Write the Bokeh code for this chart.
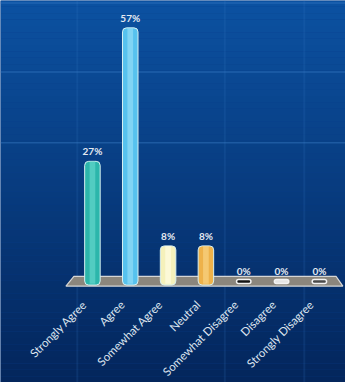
import numpy as np
from math import pi
from bokeh.plotting import figure
from bokeh.models import Range1d, Span, ColumnDataSource
from bokeh.core.properties import value
from bokeh.embed import file_html
from bokeh.resources import INLINE

# ---- data ----
categories = ["Strongly Agree", "Agree", "Somewhat Agree", "Neutral",
              "Somewhat Disagree", "Disagree", "Strongly Disagree"]
percents = [27, 57, 8, 8, 0, 0, 0]
value_labels = ["27%", "57%", "8%", "8%", "0%", "0%", "0%"]
bar_colors = ["#2cb6ab", "#57c2ee", "#f5f1bb", "#eeb24a", "#141414", "#e4e4e4", "#4a4a4a"]
highlight_colors = ["#62d5ca", "#92dbf7", "#fffce3", "#f8d383", "#141414", "#e4e4e4", "#4a4a4a"]

xs = list(range(len(categories)))
X0, X1 = -2.43, 6.69
Y0, Y1 = -22.7, 63.15

p = figure(width=345, height=382, x_range=Range1d(X0, X1), y_range=Range1d(Y0, Y1),
           output_backend="svg", toolbar_location=None,
           min_border_left=0, min_border_right=0, min_border_top=0, min_border_bottom=0)
p.outline_line_color = None
p.border_fill_color = "#052a60"
p.background_fill_color = "#083f8a"
p.grid.visible = False
p.axis.visible = False

# background gradient (decoration)
stops_t = [0.0, 0.74, 1.0]
stops_c = [np.array([12, 82, 162]), np.array([6, 49, 110]), np.array([4, 38, 92])]
nb = 60
edges = np.linspace(Y1, Y0, nb + 1)
cols = []
for k in range(nb):
    t = (k + 0.5) / nb
    if t <= stops_t[1]:
        u = t / stops_t[1]
        c = stops_c[0] * (1 - u) + stops_c[1] * u
    else:
        u = (t - stops_t[1]) / (1 - stops_t[1])
        c = stops_c[1] * (1 - u) + stops_c[2] * u
    cols.append("#%02x%02x%02x" % tuple(int(v) for v in c))
bg = p.quad(left=X0, right=X1, top=edges[:-1], bottom=edges[1:], fill_color=cols, line_color=None)
bg.level = "image"

for yy in [47.1, 31.2, 62.6]:
    p.add_layout(Span(location=yy, dimension="width", line_color="#3f7fc8", line_alpha=0.4,
                      line_width=1.5, level="underlay"))
for xx in [-0.4, 3.5, 5.6]:
    p.add_layout(Span(location=xx, dimension="height", line_color="#3f7fc8", line_alpha=0.15,
                      line_width=2, level="underlay"))

# platform
p.patch(x=[-0.49, 6.44, 6.62, -0.70], y=[1.17, 1.17, -1.03, -1.03],
        fill_color="#8b867d", line_color="#d6d6d6", line_width=1.2)

src = ColumnDataSource(dict(x=xs, top=percents, lab=value_labels, cat=categories))
nz = [i for i, v in enumerate(percents) if v > 0]
zz = [i for i, v in enumerate(percents) if v == 0]
src_nz = ColumnDataSource(dict(x=[xs[i] for i in nz], top=[percents[i] for i in nz],
                               col=[bar_colors[i] for i in nz], hi=[highlight_colors[i] for i in nz]))
src_z = ColumnDataSource(dict(x=[xs[i] for i in zz], y=[percents[i] for i in zz],
                              col=[bar_colors[i] for i in zz]))

p.vbar(x="x", top="top", bottom=-0.8, width=0.41, fill_color="col", line_color="#d8f0f2",
       line_width=1, source=src_nz, border_radius=4)
p.vbar(x="x", top="top", bottom=-0.5, width=0.15, fill_color="hi", fill_alpha=0.7,
       line_color=None, source=src_nz)

p.rect(x="x", y="y", width=0.38, height=4, height_units="screen", fill_color="col",
       line_color="#f2f2f2", line_width=1.5, source=src_z, border_radius=3)

# value labels
p.text(x="x", y="top", text="lab", source=src, text_align="center", text_baseline="bottom",
       y_offset=-4, text_color="#e3e9f1", text_font=value("Lato"), text_font_size="10px",
       text_font_style="bold")

# category labels (rotated, ending just below the platform)
p.text(x="x", y=0, text="cat", source=src, angle=pi / 4, text_align="right",
       text_baseline="middle", x_offset=-8, y_offset=21, text_color="#dfe6f0",
       text_font=value("Lato"), text_font_size="11.5px")

open("out.html", "w").write(file_html(p, INLINE))
